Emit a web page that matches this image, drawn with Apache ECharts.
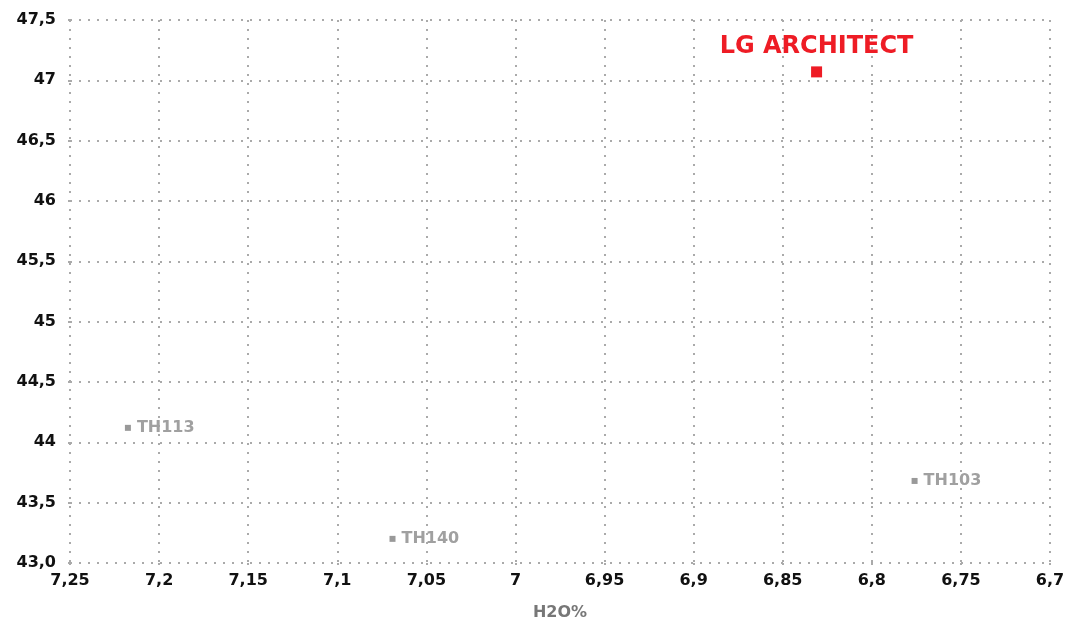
<!DOCTYPE html>
<html><head><meta charset="utf-8">
<script src="https://cdn.jsdelivr.net/npm/echarts@6/dist/echarts.min.js"></script>
<style>html,body{margin:0;padding:0;background:#fff}#c{width:1077px;height:619px}</style>
</head><body><div id="c"></div>
<script>
const names = ['LG ARCHITECT', 'TH113', 'TH140', 'TH103'];
const h2o = [6.831, 7.2175, 7.069, 6.776];
const yVals = [47.07, 44.12, 43.20, 43.68];
const xLabelName = 'H2O%';

const FONT = 'DejaVu Sans';
const fmt = v => { const n = +(+v).toFixed(2); if (n === 43) return '43,0'; return String(n).replace('.', ','); };
const dotted = { color: '#aaa', type: [2, 7], width: 2 };

const series = names.map((n, i) => {
  const hl = i === 0;
  return {
    type: 'scatter', name: n,
    symbol: 'rect', symbolSize: hl ? 11 : 6,
    itemStyle: { color: hl ? '#ee1c25' : '#999', opacity: 1 },
    data: [[h2o[i], yVals[i]]],
    label: {
      show: true, formatter: n,
      position: hl ? 'top' : 'right',
      distance: hl ? 8 : 6,
      color: hl ? '#ee1c25' : '#a0a0a0',
      fontFamily: FONT, fontWeight: 'bold', fontSize: hl ? 24 : 16
    }
  };
});

const chart = echarts.init(document.getElementById('c'), null, { renderer: 'canvas' });
chart.setOption({
  animation: false,
  grid: { left: 70, right: 27, top: 20, bottom: 56, containLabel: false, outerBoundsMode: 'none' },
  xAxis: {
    type: 'value', inverse: true, min: 6.7, max: 7.25, interval: 0.05,
    name: xLabelName, nameLocation: 'middle', nameGap: 42,
    nameTextStyle: { color: '#777', fontFamily: FONT, fontWeight: 'bold', fontSize: 16 },
    axisLine: { show: false },
    axisTick: { show: true, length: 6, lineStyle: dotted },
    splitLine: { show: true, lineStyle: dotted },
    axisLabel: { formatter: fmt, color: '#111', fontFamily: FONT, fontWeight: 'bold', fontSize: 16, margin: 10 }
  },
  yAxis: {
    type: 'value', min: 43, max: 47.5, interval: 0.5,
    axisLine: { show: false },
    axisTick: { show: true, length: 6, lineStyle: dotted },
    splitLine: { show: true, lineStyle: dotted },
    axisLabel: { formatter: fmt, color: '#111', fontFamily: FONT, fontWeight: 'bold', fontSize: 16, margin: 14 }
  },
  series: series
});
</script></body></html>
